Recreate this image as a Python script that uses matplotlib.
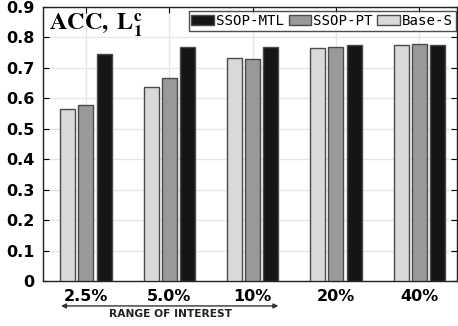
import matplotlib
matplotlib.use("Agg")
import matplotlib.pyplot as plt
import numpy as np

categories = ["2.5%", "5.0%", "10%", "20%", "40%"]
base_s = [0.566, 0.637, 0.734, 0.766, 0.775]
ssop_pt = [0.579, 0.666, 0.728, 0.769, 0.779]
ssop_mtl = [0.745, 0.770, 0.770, 0.776, 0.775]
yticks = [0, 0.1, 0.2, 0.3, 0.4, 0.5, 0.6, 0.7, 0.8, 0.9]
ytick_labels = ["0", "0.1", "0.2", "0.3", "0.4", "0.5", "0.6", "0.7", "0.8", "0.9"]

plt.rcParams["mathtext.fontset"] = "stix"
fig = plt.figure(figsize=(4.58, 3.26), dpi=100)
ax = fig.add_axes([0.094, 0.138, 0.904, 0.8405])

x = np.arange(len(categories))
w = 0.18
off = 0.218
kw = dict(edgecolor="#4a4a4a", linewidth=1.0, zorder=3)
b1 = ax.bar(x - off, base_s, w, color="#d9d9d9", label="Base-S", **kw)
b2 = ax.bar(x, ssop_pt, w, color="#999999", label="SSOP-PT", **kw)
b3 = ax.bar(x + off, ssop_mtl, w, color="#151515", label="SSOP-MTL", **kw)

ax.set_xlim(-0.515, 4.455)
ax.set_ylim(0, 0.9)
ax.set_xticks(x)
ax.set_xticklabels(categories, fontsize=11.5, fontweight="bold")
ax.set_yticks(yticks)
ax.set_yticklabels(ytick_labels, fontsize=11.5, fontweight="bold")
ax.tick_params(direction="in", top=True, right=True, length=4, width=0.8, pad=6)
ax.grid(True, color="#e6e6e6", linewidth=1.0, zorder=0)
ax.set_axisbelow(True)
for s in ax.spines.values():
    s.set_linewidth(1.0)
    s.set_color("#222222")

ax.text(0.015, 0.985, r"$\mathbf{ACC,\ L_1^c}$", transform=ax.transAxes,
        fontsize=17.5, va="top", ha="left", zorder=5)

leg = ax.legend(handles=[b3, b2, b1], loc="upper right", ncol=3,
                prop={"family": "DejaVu Sans Mono", "size": 10.2},
                frameon=True, fancybox=False, edgecolor="#222222",
                borderpad=0.2, handlelength=1.6, handleheight=0.7,
                handletextpad=0.15, columnspacing=0.3,
                bbox_to_anchor=(1.0, 0.99), borderaxespad=0.1)
leg.get_frame().set_linewidth(1.0)

# range of interest arrow
ax.annotate("", xy=(-0.30, -0.091), xytext=(2.31, -0.091),
            xycoords=("data", "axes fraction"), textcoords=("data", "axes fraction"),
            arrowprops=dict(arrowstyle="<|-|>", color="#333333", lw=1.0,
                            mutation_scale=7, shrinkA=0, shrinkB=0),
            annotation_clip=False)
ax.text(1.02, -0.12, "RANGE OF INTEREST", transform=ax.get_xaxis_transform(),
        ha="center", va="center", fontsize=7.7, fontweight="bold", color="#222222")

fig.savefig("out.png", dpi=100)
